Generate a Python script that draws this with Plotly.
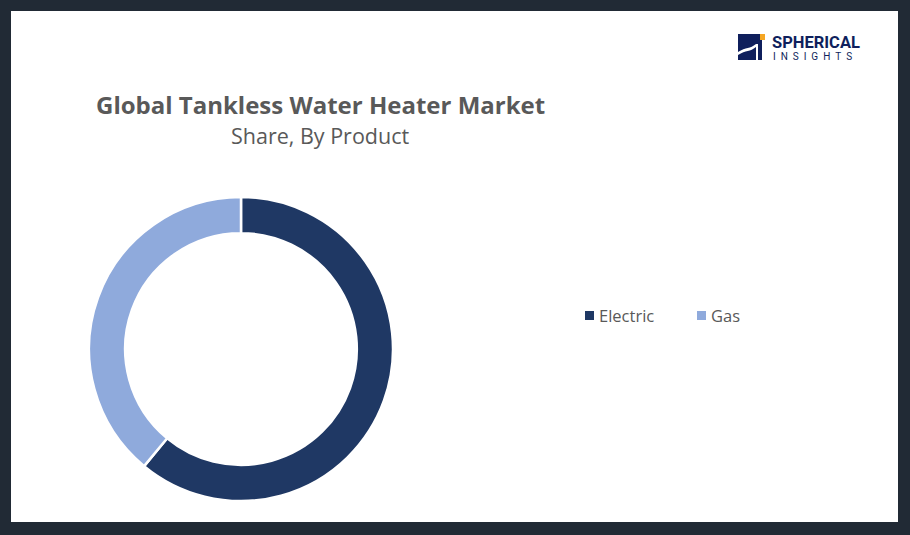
import plotly.graph_objects as go

W, H = 910, 535
labels = ["Electric", "Gas"]
values = [61, 39]
colors = ["#1f3864", "#8faadc"]

def px(x):
    return x / W

def py(y):
    return 1 - y / H

fig = go.Figure()
fig.add_trace(go.Pie(
    labels=labels, values=values, hole=0.762, sort=False, direction="clockwise",
    rotation=0, textinfo="none", hoverinfo="label+percent",
    marker=dict(colors=colors, line=dict(color="white", width=2.5)),
    domain=dict(x=[px(89), px(393)], y=[py(501), py(197)]),
    showlegend=False,
))

shapes = [
    dict(type="rect", xref="paper", yref="paper", x0=px(11), x1=px(898), y0=py(522), y1=py(11),
         fillcolor="white", line=dict(width=0), layer="below"),
    # logo icon
    dict(type="rect", xref="paper", yref="paper", x0=px(738), x1=px(762), y0=py(60), y1=py(34),
         fillcolor="#0f1f5c", line=dict(width=0)),
    dict(type="path", xref="paper", yref="paper",
         path=f"M {px(738)},{py(52)} C {px(746)},{py(47)} {px(750)},{py(49)} {px(756)},{py(44)} L {px(756)},{py(47)} C {px(750)},{py(52)} {px(746)},{py(50)} {px(738)},{py(55)} Z",
         fillcolor="white", line=dict(width=0)),
    dict(type="rect", xref="paper", yref="paper", x0=px(756), x1=px(758), y0=py(60), y1=py(44),
         fillcolor="white", line=dict(width=0)),
    dict(type="rect", xref="paper", yref="paper", x0=px(760), x1=px(765), y0=py(40), y1=py(34),
         fillcolor="#f5a623", line=dict(width=0)),
]

annotations = [
    dict(text="<b>Global Tankless Water Heater Market</b>", x=px(320), y=py(104), xref="paper", yref="paper",
         showarrow=False, xanchor="center", yanchor="middle",
         font=dict(family="Open Sans", size=24, color="#595959")),
    dict(text="Share, By Product", x=px(320), y=py(136), xref="paper", yref="paper",
         showarrow=False, xanchor="center", yanchor="middle",
         font=dict(family="Open Sans", size=21.5, color="#595959")),
    dict(text="<b>SPHERICAL</b>", x=px(770), y=py(42), xref="paper", yref="paper",
         showarrow=False, xanchor="left", yanchor="middle",
         font=dict(family="Roboto", size=16.5, color="#0f1f5c")),
    dict(text="&nbsp;&nbsp;".join("INSIGHTS"), x=px(771), y=py(56), xref="paper", yref="paper",
         showarrow=False, xanchor="left", yanchor="middle",
         font=dict(family="Roboto", size=10, color="#0f1f5c")),
]

# legend (manual, horizontal)
leg_x = [585, 697]
for lab, col, lx in zip(labels, colors, leg_x):
    shapes.append(dict(type="rect", xref="paper", yref="paper",
                       x0=px(lx), x1=px(lx + 9), y0=py(320), y1=py(311),
                       fillcolor=col, line=dict(width=0)))
    annotations.append(dict(text=lab, x=px(lx + 12), y=py(315), xref="paper", yref="paper",
                            showarrow=False, xanchor="left", yanchor="middle",
                            font=dict(family="Open Sans", size=16.5, color="#595959")))

fig.update_layout(
    width=W, height=H, margin=dict(l=0, r=0, t=0, b=0),
    paper_bgcolor="#212a35", plot_bgcolor="white",
    shapes=shapes, annotations=annotations,
    showlegend=False,
)

fig.write_html("out.html", config={"displayModeBar": False},
               post_script="document.body.style.margin='0';document.body.style.overflow='hidden';")
